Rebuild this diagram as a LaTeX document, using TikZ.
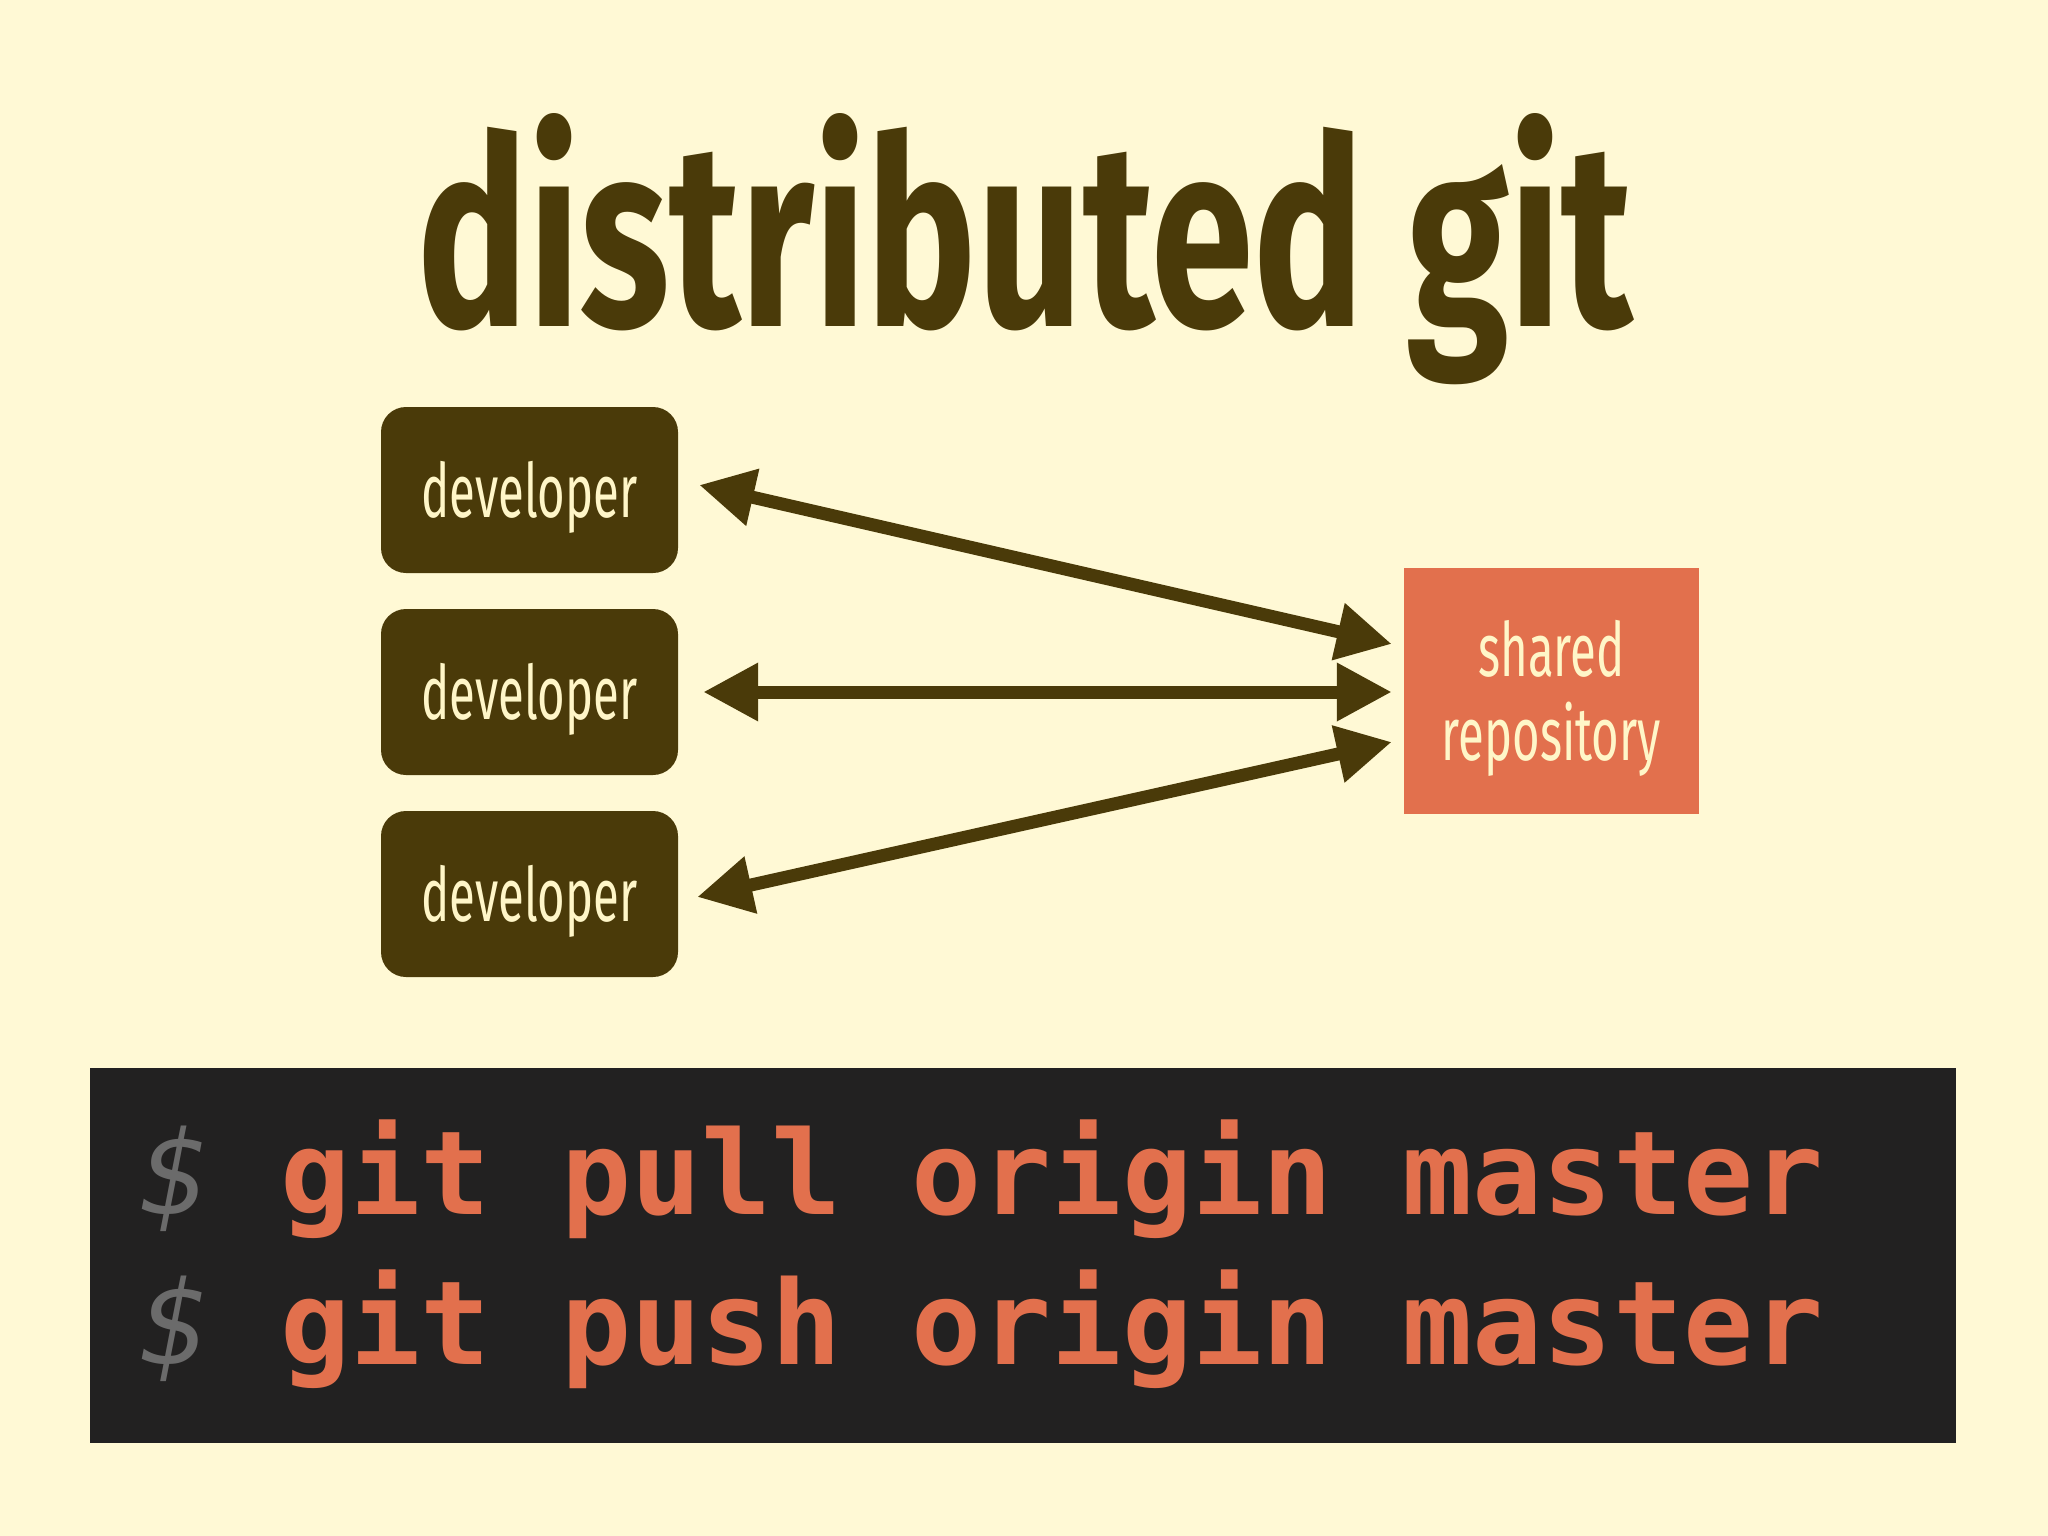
\documentclass[tikz,border=0pt]{standalone}
\usepackage{fontspec}
\usetikzlibrary{arrows.meta}
\setmainfont{Fira Sans}
\newfontfamily\lblfont[FakeStretch=0.63]{Fira Sans}
\newfontfamily\codefont{DejaVu Sans Mono}
\definecolor{bgcream}{HTML}{FFF9D5}
\definecolor{darkbrown}{HTML}{4A3A09}
\definecolor{rustorange}{HTML}{E2704D}
\definecolor{codebg}{HTML}{222121}
\definecolor{dollargrey}{HTML}{6B6B6B}
\definecolor{lighttext}{HTML}{FFF6C8}
\tikzset{
  devbox/.style={fill=darkbrown, rounded corners=25pt, minimum width=297pt, minimum height=166pt, inner sep=0pt, text=lighttext, text height=54pt, text depth=0pt, font=\lblfont\fontsize{75}{84}\selectfont},
  repobox/.style={fill=rustorange, minimum width=295pt, minimum height=246pt, inner sep=0pt, text=lighttext, font=\lblfont\fontsize{75}{84}\selectfont},
  arr/.style={draw=darkbrown, line width=13pt, {Triangle[length=55pt,width=55pt]}-{Triangle[length=55pt,width=55pt]}},
  codeline/.style={anchor=base west, inner sep=0pt, font=\codefont\fontsize{116.5}{117}\selectfont}
}
\begin{document}
\begin{tikzpicture}[x=1pt,y=-1pt]
\fill[bgcream] (0,0) rectangle (2048,1536);
\useasboundingbox (0,0) rectangle (2048,1536);
% title
\node[anchor=base west, inner sep=0pt, text=darkbrown] (title) at (417,326) {\resizebox{1215pt}{213pt}{\bfseries distributed git}};
% developers
\node[devbox] (dev1) at (529.5,490) {developer};
\node[devbox] (dev2) at (529.5,692) {developer};
\node[devbox] (dev3) at (529.5,894) {developer};
% repository
\node[repobox] (repo) at (1551.5,691) {\raisebox{0pt}[0pt][30pt]{\begin{tabular}[t]{@{}c@{}}shared\\repository\end{tabular}}};
% arrows
\draw[arr] ([shift={(21,-5)}]dev1.east) -- ([shift={(-12,-47)}]repo.west);
\draw[arr] ([shift={(25,0)}]dev2.east) -- ([shift={(-12,1)}]repo.west);
\draw[arr] ([shift={(19,3)}]dev3.east) -- ([shift={(-12,51)}]repo.west);
% code box
\node[fill=codebg, minimum width=1866pt, minimum height=375pt, inner sep=0pt] (codebox) at (1023,1255.5) {};
\node[codeline] (pull) at (140,1214) {\textcolor{dollargrey}{\itshape\$} \textcolor{rustorange}{\bfseries git pull origin master}};
\node[codeline] (push) at (140,1364) {\textcolor{dollargrey}{\itshape\$} \textcolor{rustorange}{\bfseries git push origin master}};
\end{tikzpicture}
\end{document}
